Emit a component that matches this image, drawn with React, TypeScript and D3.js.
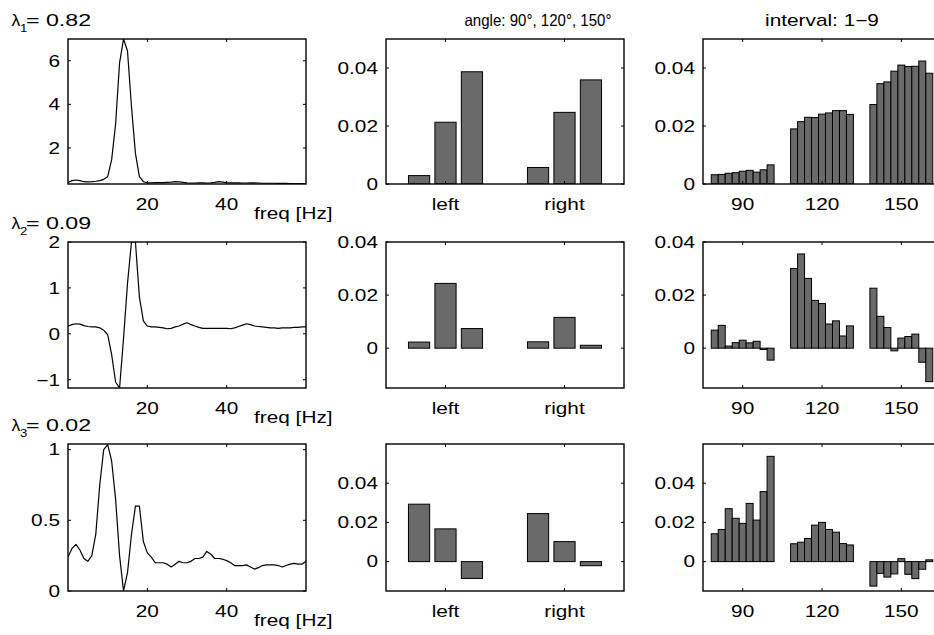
import React from 'react';
import * as d3 from 'd3';

// ---------- data ----------
const lambdaValues = ['0.82', '0.09', '0.02'];
const freqTicks = [20, 40];

// spectra at frequencies 0..60 Hz
const spectrum1 = [
  0.42, 0.50, 0.53, 0.50, 0.45, 0.44, 0.45, 0.47, 0.50, 0.56,
  0.68, 1.45, 3.10, 5.90, 7.00, 6.45, 3.90, 1.75, 0.68, 0.45,
  0.40, 0.40, 0.41, 0.41, 0.41, 0.42, 0.43, 0.45, 0.44, 0.42,
  0.40, 0.39, 0.39, 0.40, 0.40, 0.39, 0.40, 0.42, 0.45, 0.43,
  0.41, 0.40, 0.40, 0.40, 0.39, 0.39, 0.40, 0.40, 0.39, 0.38,
  0.38, 0.38, 0.38, 0.37, 0.37, 0.37, 0.36, 0.36, 0.36, 0.36,
  0.36,
];
const spectrum2 = [
  0.17, 0.20, 0.22, 0.21, 0.18, 0.16, 0.15, 0.15, 0.13, 0.08,
  -0.02, -0.45, -1.05, -1.18, -0.10, 1.10, 2.00, 2.00, 0.80, 0.28,
  0.17, 0.15, 0.15, 0.14, 0.13, 0.11, 0.12, 0.15, 0.17, 0.21,
  0.24, 0.20, 0.17, 0.14, 0.12, 0.12, 0.12, 0.12, 0.12, 0.12,
  0.12, 0.11, 0.13, 0.16, 0.19, 0.22, 0.20, 0.17, 0.16, 0.15,
  0.14, 0.13, 0.13, 0.12, 0.13, 0.13, 0.13, 0.14, 0.14, 0.15,
  0.15,
];
const spectrum3 = [
  0.24, 0.30, 0.33, 0.29, 0.23, 0.21, 0.25, 0.40, 0.75, 1.00,
  1.035, 0.92, 0.65, 0.25, 0.00, 0.13, 0.40, 0.60, 0.60, 0.35,
  0.27, 0.24, 0.20, 0.20, 0.20, 0.19, 0.17, 0.19, 0.21, 0.20,
  0.20, 0.21, 0.23, 0.23, 0.24, 0.28, 0.26, 0.23, 0.23, 0.225,
  0.215, 0.20, 0.18, 0.18, 0.18, 0.185, 0.17, 0.155, 0.165, 0.18,
  0.185, 0.185, 0.185, 0.18, 0.17, 0.18, 0.19, 0.195, 0.19, 0.19,
  0.21,
];

const sides = ['left', 'right'];
const angleBars1 = [[0.0029, 0.0213, 0.0387], [0.0057, 0.0247, 0.0359]];
const angleBars2 = [[0.0023, 0.0244, 0.0074], [0.0024, 0.0116, 0.0011]];
const angleBars3 = [[0.0293, 0.0167, -0.0086], [0.0245, 0.0102, -0.0021]];

const angles = [90, 120, 150];
const intervalBars1 = [
  [0.0032, 0.0033, 0.0037, 0.0039, 0.0044, 0.0047, 0.0041, 0.0049, 0.0066],
  [0.0190, 0.0215, 0.0230, 0.0229, 0.0241, 0.0245, 0.0253, 0.0253, 0.0240],
  [0.0274, 0.0346, 0.0352, 0.0389, 0.0410, 0.0405, 0.0406, 0.0424, 0.0382],
];
const intervalBars2 = [
  [0.0068, 0.0086, 0.0008, 0.0021, 0.0030, 0.0020, 0.0026, -0.0005, -0.0045],
  [0.0300, 0.0355, 0.0263, 0.0180, 0.0168, 0.0091, 0.0103, 0.0046, 0.0084],
  [0.0226, 0.0120, 0.0078, -0.0010, 0.0038, 0.0044, 0.0053, -0.0053, -0.0126],
];
const intervalBars3 = [
  [0.0142, 0.0164, 0.0270, 0.0221, 0.0195, 0.0297, 0.0212, 0.0357, 0.0537],
  [0.0091, 0.0099, 0.0118, 0.0186, 0.0200, 0.0164, 0.0150, 0.0092, 0.0085],
  [-0.0125, -0.0060, -0.0079, -0.0063, 0.0015, -0.0065, -0.0087, -0.0039, 0.0009],
];

const barTicks = [0, 0.02, 0.04];
const barTickLabels = ['0', '0.02', '0.04'];

// ---------- layout ----------
const W = 934;
const H = 635;
const colX = [68, 386, 703];
const panelW = 238;
const rowY: [number, number][] = [[39, 184], [242, 388], [444, 591]];
const FONT = '"Liberation Sans", Arial, Helvetica, sans-serif';
const FS = 16;
const SX = 1.3; // horizontal stretch of the lettering
const BAR_FILL = '#6a6a6a';
const TICK = 3;

type TProps = {
  x: number;
  y: number;
  anchor?: 'start' | 'middle' | 'end';
  dy?: string;
  size?: number;
  sx?: number;
  textLength?: number;
  children: React.ReactNode;
};

function T({ x, y, anchor = 'start', dy, size = FS, sx = SX, textLength, children }: TProps) {
  return (
    <text
      transform={`translate(${x},${y}) scale(${sx},1)`}
      textAnchor={anchor}
      dy={dy}
      fontSize={size}
      fontFamily={FONT}
      fill="#000"
      textLength={textLength}
      lengthAdjust={textLength ? 'spacingAndGlyphs' : undefined}
    >
      {children}
    </text>
  );
}

type PanelProps = {
  id: string;
  x0: number;
  y0: number;
  y1: number;
  xDomain: [number, number];
  yDomain: [number, number];
  xTicks: number[];
  xLabels: string[];
  yTicks: number[];
  yLabels: string[];
  render: (xs: d3.ScaleLinear<number, number>, ys: d3.ScaleLinear<number, number>) => React.ReactNode;
};

function Panel(p: PanelProps) {
  const xs = d3.scaleLinear().domain(p.xDomain).range([p.x0, p.x0 + panelW]);
  const ys = d3.scaleLinear().domain(p.yDomain).range([p.y1, p.y0]);
  const h = p.y1 - p.y0;
  return (
    <g>
      <clipPath id={p.id}>
        <rect x={p.x0} y={p.y0} width={panelW} height={h} />
      </clipPath>
      <g clipPath={`url(#${p.id})`}>{p.render(xs, ys)}</g>
      <rect x={p.x0} y={p.y0} width={panelW} height={h} fill="none" stroke="#000" strokeWidth={1.4} />
      {p.xTicks.map((t, i) => (
        <g key={'xt' + i}>
          <line x1={xs(t)} x2={xs(t)} y1={p.y1} y2={p.y1 - TICK} stroke="#000" strokeWidth={1} />
          <line x1={xs(t)} x2={xs(t)} y1={p.y0} y2={p.y0 + TICK} stroke="#000" strokeWidth={1} />
          <T x={xs(t)} y={p.y1 + 26} anchor="middle">{p.xLabels[i]}</T>
        </g>
      ))}
      {p.yTicks.map((t, i) => (
        <g key={'yt' + i}>
          <line x1={p.x0} x2={p.x0 + TICK} y1={ys(t)} y2={ys(t)} stroke="#000" strokeWidth={1} />
          <line x1={p.x0 + panelW} x2={p.x0 + panelW - TICK} y1={ys(t)} y2={ys(t)} stroke="#000" strokeWidth={1} />
          <T x={p.x0 - 8} y={ys(t)} dy="0.36em" anchor="end">{p.yLabels[i]}</T>
        </g>
      ))}
    </g>
  );
}

const spectra = [spectrum1, spectrum2, spectrum3];
const specYDomains: [number, number][] = [[0.345, 7.0], [-1.18, 2.0], [0, 1.04]];
const specYTicks = [[2, 4, 6], [-1, 0, 1, 2], [0, 0.5, 1]];
const specYLabels = [['2', '4', '6'], ['\u22121', '0', '1', '2'], ['0', '0.5', '1']];

const angleData = [angleBars1, angleBars2, angleBars3];
const intervalData = [intervalBars1, intervalBars2, intervalBars3];
const barYDomains: [number, number][] = [[0, 0.05], [-0.015, 0.04], [-0.015, 0.06]];

export default function App() {
  return (
    <div style={{ position: 'absolute', left: 0, top: 0 }}>
      <svg width={W} height={H} style={{ display: 'block', background: '#fff' }}>
        <rect x={0} y={0} width={W} height={H} fill="#fff" />
        {/* column titles */}
        <T x={464.5} y={26} sx={1} size={16.5} textLength={147}>angle: 90°, 120°, 150°</T>
        <T x={822} y={26} anchor="middle">interval: 1{'\u2212'}9</T>

        {rowY.map(([y0, y1], r) => {
          const line = (xs: d3.ScaleLinear<number, number>, ys: d3.ScaleLinear<number, number>) =>
            d3.line<number>().x((_, i) => xs(i)).y((d) => ys(d))(spectra[r]) || '';
          return (
            <g key={'row' + r}>
              {/* lambda label */}
              <T x={11.5} y={y0 - 13} sx={1.1}>λ</T>
              <T x={20} y={y0 - 7} size={11} sx={1.2}>{String(r + 1)}</T>
              <T x={26} y={y0 - 13} sx={1.45}>= {lambdaValues[r]}</T>
              <T x={254} y={y1 + 35}>freq [Hz]</T>
              <Panel
                id={'spec' + r}
                x0={colX[0]}
                y0={y0}
                y1={y1}
                xDomain={[0, 60]}
                yDomain={specYDomains[r]}
                xTicks={freqTicks}
                xLabels={freqTicks.map(String)}
                yTicks={specYTicks[r]}
                yLabels={specYLabels[r]}
                render={(xs, ys) => (
                  <path d={line(xs, ys)} fill="none" stroke="#000" strokeWidth={1.2} strokeLinejoin="round" />
                )}
              />
              <Panel
                id={'ang' + r}
                x0={colX[1]}
                y0={y0}
                y1={y1}
                xDomain={[0.5, 2.5]}
                yDomain={barYDomains[r]}
                xTicks={[1, 2]}
                xLabels={sides}
                yTicks={barTicks}
                yLabels={barTickLabels}
                render={(xs, ys) =>
                  angleData[r].map((grp, g) =>
                    grp.map((v, j) => {
                      const c = g + 1 + (j - 1) * 0.2222;
                      const bw = 0.178;
                      const xa = xs(c - bw / 2);
                      const xb = xs(c + bw / 2);
                      const ya = ys(Math.max(v, 0));
                      const yb = ys(Math.min(v, 0));
                      return (
                        <rect key={g + '-' + j} x={xa} y={ya} width={xb - xa} height={yb - ya}
                          fill={BAR_FILL} stroke="#000" strokeWidth={1} />
                      );
                    })
                  )
                }
              />
              <Panel
                id={'int' + r}
                x0={colX[2]}
                y0={y0}
                y1={y1}
                xDomain={[75, 165]}
                yDomain={barYDomains[r]}
                xTicks={angles}
                xLabels={angles.map(String)}
                yTicks={barTicks}
                yLabels={barTickLabels}
                render={(xs, ys) =>
                  intervalData[r].map((grp, g) =>
                    grp.map((v, j) => {
                      const step = 2.64;
                      const c = angles[g] + (j - 4) * step;
                      const xa = xs(c - step / 2);
                      const xb = xs(c + step / 2);
                      const ya = ys(Math.max(v, 0));
                      const yb = ys(Math.min(v, 0));
                      return (
                        <rect key={g + '-' + j} x={xa} y={ya} width={xb - xa} height={Math.max(yb - ya, 0.5)}
                          fill={BAR_FILL} stroke="#000" strokeWidth={1} />
                      );
                    })
                  )
                }
              />
            </g>
          );
        })}
      </svg>
    </div>
  );
}
